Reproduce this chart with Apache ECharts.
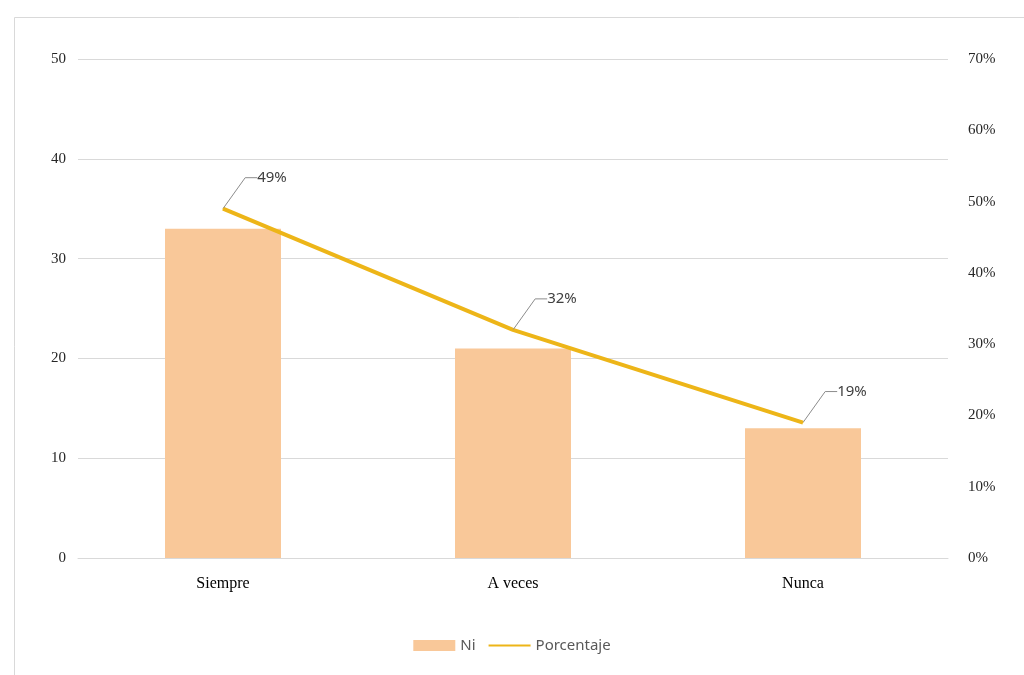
<!DOCTYPE html>
<html><head><meta charset="utf-8">
<script src="https://cdn.jsdelivr.net/npm/echarts@6/dist/echarts.min.js"></script>
<style>html,body{margin:0;padding:0;background:#fff}#c{width:1024px;height:675px}</style>
</head><body><div id="c"></div>
<script>
var categories = ['Siempre', 'A veces', 'Nunca'];
var niValues = [33, 21, 13];
var pctValues = [49, 32, 19];
var leftTicks = [0, 10, 20, 30, 40, 50];
var rightTicks = [0, 10, 20, 30, 40, 50, 60, 70];

var chart = echarts.init(document.getElementById('c'), null, {renderer: 'canvas'});
chart.setOption({
  animation: false,
  backgroundColor: '#fff',
  graphic: [{type: 'rect', shape: {x: 14.5, y: 17.5, width: 1020, height: 670}, style: {fill: 'none', stroke: '#d9d9d9', lineWidth: 1}, silent: true}],
  grid: {left: 78, right: 76, top: 59, bottom: 117, containLabel: false},
  legend: {
    bottom: 17, left: 'center', itemGap: 12, itemWidth: 42, itemHeight: 11,
    textStyle: {fontFamily: 'Noto Sans', fontSize: 15, color: '#595959'},
    data: [{name: 'Ni', icon: 'rect'}, {name: 'Porcentaje', itemStyle: {opacity: 0}}]
  },
  xAxis: {
    type: 'category', data: categories,
    axisLine: {lineStyle: {color: '#d9d9d9'}}, axisTick: {show: false},
    axisLabel: {fontFamily: 'Liberation Serif', fontSize: 16, color: '#000', margin: 18}
  },
  yAxis: [{
    type: 'value', min: leftTicks[0], max: leftTicks[leftTicks.length - 1], interval: 10,
    axisLine: {show: false}, axisTick: {show: false},
    splitLine: {lineStyle: {color: '#d9d9d9'}},
    axisLabel: {fontFamily: 'Liberation Serif', fontSize: 15, color: '#262626', margin: 12}
  }, {
    type: 'value', min: rightTicks[0], max: rightTicks[rightTicks.length - 1], interval: 10,
    axisLine: {show: false}, axisTick: {show: false}, splitLine: {show: false},
    axisLabel: {fontFamily: 'Liberation Serif', fontSize: 15, color: '#262626', margin: 20, formatter: '{value}%'}
  }],
  series: [{
    name: 'Ni', type: 'bar', data: niValues, barWidth: '40%',
    itemStyle: {color: '#F9C899'}
  }, {
    name: 'Porcentaje', type: 'line', yAxisIndex: 1, data: pctValues,
    symbol: 'circle', symbolSize: 1, showSymbol: true,
    lineStyle: {color: '#EDB518', width: 4}, itemStyle: {color: '#EDB518'},
    label: {show: true, position: 'top', formatter: '{c}%', fontFamily: 'Noto Sans', fontSize: 15, color: '#404040', padding: [0, 0, 0, 6]},
    labelLayout: {dx: 46, dy: -18},
    labelLine: {show: true, length2: 12, lineStyle: {color: '#8c8c8c', width: 1}}
  }]
});
</script></body></html>
